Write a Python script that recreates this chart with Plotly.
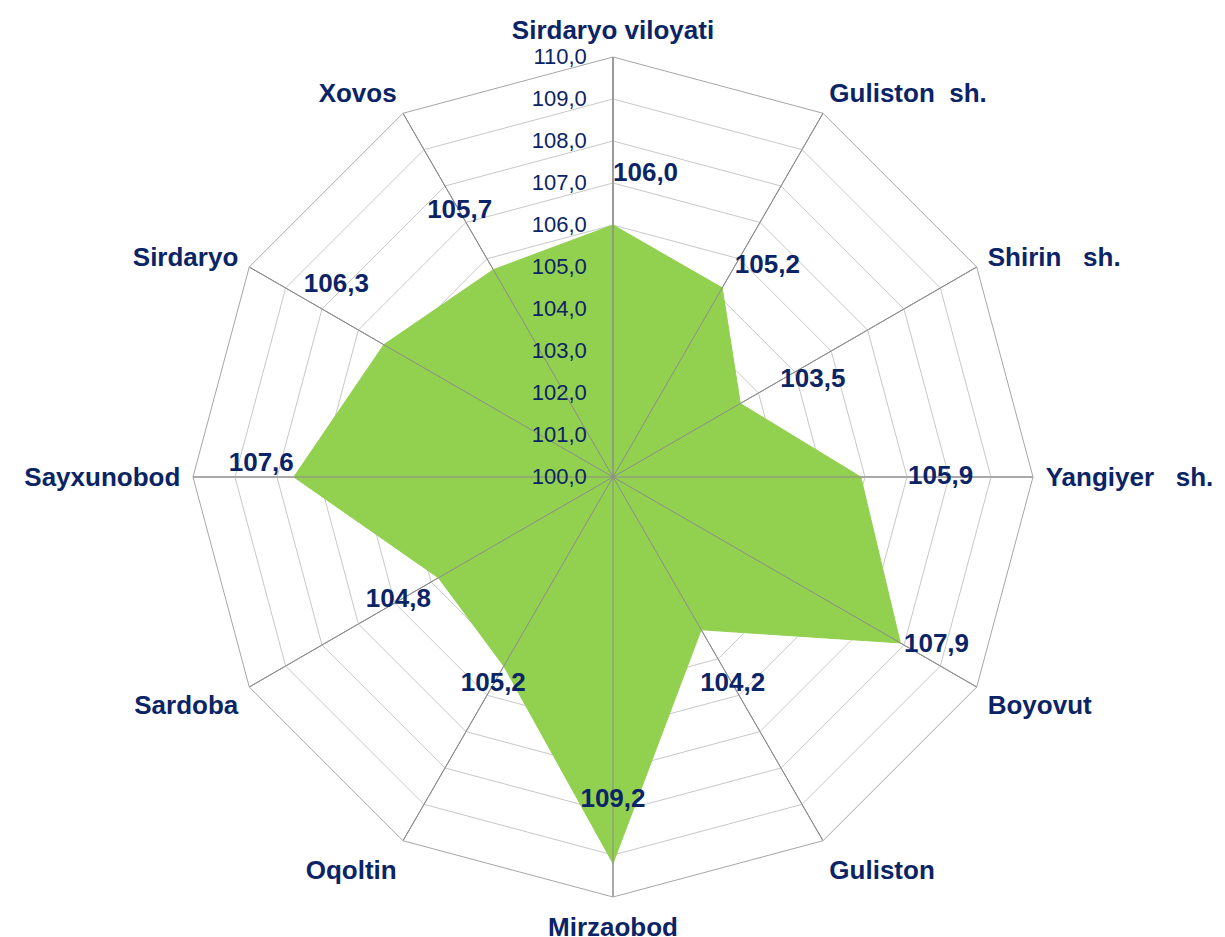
import plotly.graph_objects as go

# hududlar (soat strelkasi bo'yicha, tepadan)
hududlar = [
    "Sirdaryo viloyati", "Guliston\u00a0 sh.", "Shirin\u00a0\u00a0 sh.",
    "Yangiyer\u00a0\u00a0 sh.", "Boyovut", "Guliston", "Mirzaobod", "Oqoltin",
    "Sardoba", "Sayxunobod", "Sirdaryo", "Xovos",
]
qiymatlar = [106.0, 105.2, 103.5, 105.9, 107.9, 104.2, 109.2, 105.2, 104.8, 107.6, 106.3, 105.7]

r_min, r_max = 100, 110

navy = "#0B2466"
green = "#92D050"

# data label placement (radius + text position), tuned by eye
label_r = [107.2, 105.8, 104.6, 107.8, 108.0, 105.7, 107.7, 105.7, 105.9, 107.6, 108.5, 107.3]
label_pos = ["middle right", "middle right", "middle right", "middle center",
             "middle right", "middle center", "middle center", "middle center",
             "middle center", "top left", "top right", "middle center"]
label_txt = [f"{v:.1f}".replace(".", ",") for v in qiymatlar]

fig = go.Figure()

fig.add_trace(go.Scatterpolar(
    r=qiymatlar + [qiymatlar[0]],
    theta=hududlar + [hududlar[0]],
    mode="lines",
    fill="toself",
    fillcolor=green,
    line=dict(color=green, width=1),
    hoverinfo="skip",
))

# spokes drawn over the fill
sp_r, sp_t = [], []
for h in hududlar:
    sp_r += [r_min, r_max, None]
    sp_t += [h, h, None]
fig.add_trace(go.Scatterpolar(
    r=sp_r, theta=sp_t, mode="lines",
    line=dict(color="#8C8C8C", width=1),
    hoverinfo="skip", connectgaps=False,
))

fig.add_trace(go.Scatterpolar(
    r=label_r, theta=hududlar, mode="text",
    text=label_txt, textposition=label_pos,
    textfont=dict(family="Arial, Liberation Sans", size=26, color=navy, weight="bold"),
    hoverinfo="skip",
))

fig.update_layout(
    width=1225, height=937,
    margin=dict(l=185, r=200, t=49, b=48),
    paper_bgcolor="white",
    showlegend=False,
    separators=", ",
    polar=dict(
        bgcolor="white",
        gridshape="linear",
        radialaxis=dict(
            range=[r_min, r_max], dtick=1, tickformat=".1f",
            angle=90, tickangle=90, side="counterclockwise",
            gridcolor="#C8C8C8", gridwidth=1,
            showline=True, linecolor="#8C8C8C",
            ticks="outside", ticklen=18, tickcolor="rgba(0,0,0,0)",
            tickfont=dict(family="Arial, Liberation Sans", size=22, color=navy),
        ),
        angularaxis=dict(
            direction="clockwise", rotation=90,
            gridcolor="#8C8C8C", linecolor="#A6A6A6",
            ticks="outside", ticklen=7, tickcolor="rgba(0,0,0,0)",
            tickfont=dict(family="Arial, Liberation Sans", size=26, color=navy, weight="bold"),
        ),
    ),
)

# title, cut off at the top of the picture
fig.add_annotation(
    text="(2023 yil yanvar-dekabr, foizda)",
    xref="paper", yref="paper", x=0.415, y=1.07,
    xanchor="center", yanchor="bottom", showarrow=False,
    font=dict(family="Arial, Liberation Sans", size=27, color="#FF0000", weight="bold"),
)

fig.write_html("out.html")
